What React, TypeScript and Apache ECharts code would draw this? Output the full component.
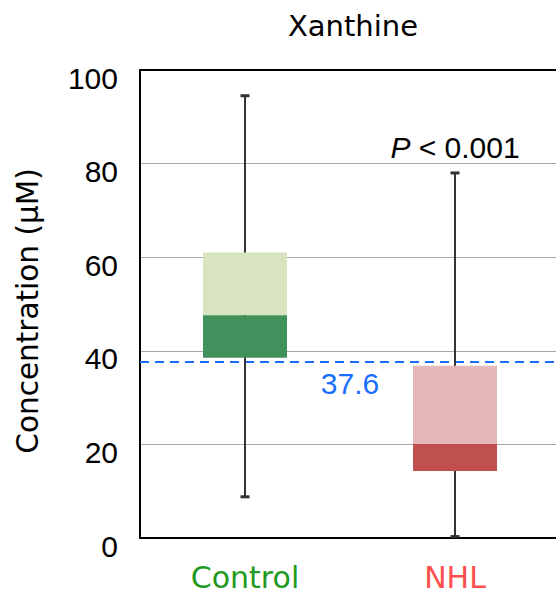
import React, { useEffect, useRef } from "react";
import * as echarts from "echarts";

const categories = ["Control", "NHL"];
const mins = [8.8, 0.3];
const q1s = [38.5, 14.3];
const medians = [47.6, 20.1];
const q3s = [61.0, 36.8];
const maxs = [94.5, 78.0];
const threshold = 37.6;
const pValueText = "< 0.001";
const yTicks = [0, 20, 40, 60, 80, 100];

const lightColors = ["#d8e4c0", "#e5b8b8"];
const darkColors = ["#40915c", "#c0504f"];
const labelColors = ["#1f9a1f", "#ff5050"];
const FONT = "Liberation Sans, Arial, Helvetica, sans-serif";
const WFONT = "DejaVu Sans, Liberation Sans, sans-serif";

export default function App() {
  const ref = useRef<HTMLDivElement>(null);
  useEffect(() => {
    if (!ref.current) return;
    const chart = echarts.init(ref.current, undefined, { renderer: "svg" });
    const data = categories.map((_, i) => [i, mins[i], q1s[i], medians[i], q3s[i], maxs[i]]);
    const option: any = {
      animation: false,
      backgroundColor: "#ffffff",
      textStyle: { fontFamily: FONT },
      title: {
        text: "Xanthine",
        left: 348,
        textAlign: "center",
        top: 6,
        textStyle: { fontFamily: WFONT, fontSize: 29, fontWeight: "normal", color: "#000" },
      },
      grid: { left: 140, right: -4, top: 70, bottom: 57, outerBoundsMode: "none", containLabel: false },
      xAxis: [
        {
          type: "category",
          data: categories,
          position: "bottom",
          axisLine: { lineStyle: { color: "#000", width: 2 } },
          axisTick: { show: false },
          splitLine: { show: false },
          axisLabel: {
            margin: 24,
            fontFamily: WFONT,
            formatter: (v: string, i: number) => `{c${i}|${v}}`,
            rich: {
              c0: { color: labelColors[0], fontSize: 30, fontFamily: WFONT },
              c1: { color: labelColors[1], fontSize: 30, fontFamily: WFONT },
            },
          },
        },
        {
          type: "category",
          data: categories,
          position: "top",
          axisLine: { show: true, lineStyle: { color: "#000", width: 2 } },
          axisTick: { show: false },
          axisLabel: { show: false },
          splitLine: { show: false },
        },
      ],
      yAxis: {
        type: "value",
        min: yTicks[0],
        max: yTicks[yTicks.length - 1],
        interval: 20,
        name: "Concentration (μM)",
        nameLocation: "middle",
        nameRotate: 90,
        nameGap: 97,
        nameTextStyle: { fontFamily: WFONT, fontSize: 29.5, color: "#000", padding: [0, 14, 0, 0] },
        axisLine: { show: true, lineStyle: { color: "#000", width: 2 } },
        axisTick: { show: false },
        axisLabel: {
          fontFamily: FONT,
          color: "#000",
          margin: 22,
          formatter: "{a|{value}}",
          rich: {
            a: { fontFamily: FONT, fontSize: 30, color: "#000", padding: [16, 0, 0, 0] },
          },
        },
        splitLine: { show: true, lineStyle: { color: "#a6a6a6", width: 1 } },
      },
      series: [
        {
          type: "custom",
          xAxisIndex: 0,
          data,
          renderItem: (params: any, api: any) => {
            const idx = api.value(0);
            const pMin = api.coord([idx, api.value(1)]);
            const pQ1 = api.coord([idx, api.value(2)]);
            const pMed = api.coord([idx, api.value(3)]);
            const pQ3 = api.coord([idx, api.value(4)]);
            const pMax = api.coord([idx, api.value(5)]);
            const band = api.size([1, 0])[0];
            const w = band * 0.4;
            const x = pMed[0];
            const capW = 9;
            const wStyle = { stroke: "#333", lineWidth: 2 };
            const cStyle = { stroke: "#333", lineWidth: 3 };
            return {
              type: "group",
              children: [
                { type: "line", shape: { x1: x, y1: pMax[1], x2: x, y2: pMin[1] }, style: wStyle },
                { type: "line", shape: { x1: x - capW / 2, y1: pMax[1], x2: x + capW / 2, y2: pMax[1] }, style: cStyle },
                { type: "line", shape: { x1: x - capW / 2, y1: pMin[1], x2: x + capW / 2, y2: pMin[1] }, style: cStyle },
                {
                  type: "rect",
                  shape: { x: x - w / 2, y: pQ3[1], width: w, height: pMed[1] - pQ3[1] },
                  style: { fill: lightColors[params.dataIndex] },
                },
                {
                  type: "rect",
                  shape: { x: x - w / 2, y: pMed[1], width: w, height: pQ1[1] - pMed[1] },
                  style: { fill: darkColors[params.dataIndex] },
                },
              ],
            };
          },
          markLine: {
            silent: true,
            symbol: ["none", "none"],
            data: [{ yAxis: threshold }],
            lineStyle: { type: [9, 6], color: "#1a6eff", width: 2 },
            label: {
              show: true,
              position: "insideMiddleBottom",
              formatter: String(threshold),
              color: "#1a6eff",
              fontSize: 30,
              fontFamily: FONT,
              distance: 6,
            },
          },
          markPoint: {
            silent: true,
            symbol: "circle",
            symbolSize: 0,
            data: [{ coord: [1, maxs[1]] }],
            label: {
              show: true,
              position: "top",
              distance: 10,
              formatter: `{i|P} ${pValueText}`,
              color: "#000",
              fontSize: 30,
              fontFamily: FONT,
              rich: {
                i: { fontStyle: "italic", fontSize: 30, fontFamily: FONT, color: "#000" },
              },
            },
          },
          z: 5,
        },
      ],
    };
    chart.setOption(option);
    return () => chart.dispose();
  }, []);
  return (
    <div
      ref={ref}
      style={{ position: "fixed", left: 0, top: 0, width: 556, height: 595 }}
    />
  );
}
